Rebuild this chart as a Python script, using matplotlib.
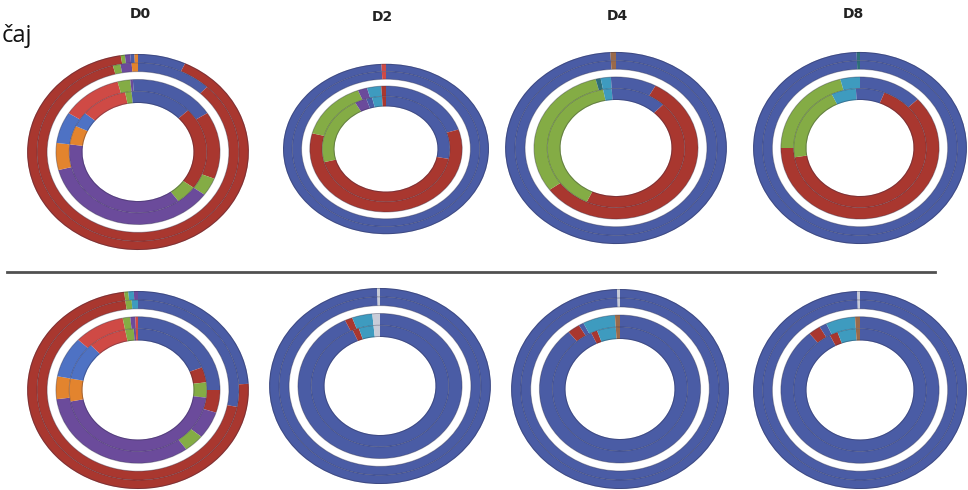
import numpy as np
import matplotlib.pyplot as plt
from matplotlib.lines import Line2D
from matplotlib.patches import Circle

# colour for each category
palette = {
    'blue': '#4A5CA5', 'blue2': '#4E72C4', 'red': '#A9372F', 'rose': '#CF4A45',
    'green': '#84AC45', 'purple': '#6B4B9B', 'orange': '#E3842E', 'cyan': '#3E9BBF',
    'brown': '#9A6A4A', 'grey': '#C8CCD8', 'teal': '#2E6E7A',
}

titles = ['D0', 'D2', 'D4', 'D8']

# each panel: 4 rings (outer -> inner), segments clockwise from 12 o'clock
top_d0 = [
    [('blue', 7), ('red', 90.5), ('green', 0.6), ('purple', 0.8), ('blue', 0.6), ('orange', 0.5)],
    [('blue', 12), ('red', 84), ('green', 1.2), ('purple', 1.8), ('orange', 1.0)],
    [('blue', 16), ('red', 15), ('green', 4), ('purple', 36), ('orange', 6), ('blue2', 7),
     ('rose', 12), ('green', 2.5), ('purple', 0.5), ('blue', 1)],
    [('blue', 13), ('red', 22), ('green', 5), ('purple', 37), ('orange', 5), ('blue2', 4),
     ('rose', 11), ('green', 1.5), ('blue', 1.5)],
]
top_d2 = [
    [('blue', 99.3), ('rose', 0.7)],
    [('blue', 99.3), ('rose', 0.7)],
    [('blue', 20), ('red', 59), ('green', 15), ('purple', 2), ('cyan', 3), ('red', 1)],
    [('blue', 28), ('red', 43), ('green', 21), ('purple', 3), ('blue', 1.5), ('cyan', 2.5), ('red', 1)],
]
top_d4 = [
    [('blue', 99.2), ('brown', 0.8)],
    [('blue', 99.2), ('brown', 0.8)],
    [('blue', 8), ('red', 57), ('green', 31), ('teal', 1), ('cyan', 2), ('blue', 1)],
    [('blue', 12), ('red', 45), ('green', 40), ('cyan', 2), ('blue', 1)],
]
top_d8 = [
    [('blue', 99.5), ('teal', 0.5)],
    [('blue', 99.5), ('teal', 0.5)],
    [('blue', 13), ('red', 62), ('green', 21), ('cyan', 4)],
    [('blue', 6), ('red', 66.5), ('green', 20.5), ('cyan', 6), ('blue', 1)],
]
bot_d0 = [
    [('blue', 24), ('red', 74), ('green', 0.6), ('cyan', 0.8), ('purple', 0.6)],
    [('blue', 28), ('red', 70), ('green', 1), ('cyan', 1)],
    [('blue', 25), ('red', 5), ('purple', 6), ('green', 4), ('purple', 33), ('orange', 5),
     ('blue2', 9), ('rose', 10), ('green', 1.5), ('purple', 1), ('rose', 0.5)],
    [('blue', 19), ('red', 4), ('green', 4), ('purple', 45), ('orange', 6), ('blue2', 10),
     ('rose', 9), ('green', 2), ('purple', 0.5), ('rose', 0.5)],
]
bot_d2 = [
    [('blue', 99.6), ('grey', 0.4)],
    [('blue', 99.6), ('grey', 0.4)],
    [('blue', 93), ('red', 1.5), ('cyan', 4), ('grey', 1.5)],
    [('blue', 93.5), ('red', 1.5), ('cyan', 3.5), ('grey', 1.5)],
]
bot_d4 = [
    [('blue', 99.6), ('grey', 0.4)],
    [('blue', 99.6), ('grey', 0.4)],
    [('blue', 89), ('red', 2.5), ('blue', 1), ('cyan', 6.5), ('brown', 1)],
    [('blue', 93), ('red', 1.5), ('cyan', 4.5), ('brown', 1)],
]
bot_d8 = [
    [('blue', 99.6), ('grey', 0.4)],
    [('blue', 99.6), ('grey', 0.4)],
    [('blue', 89), ('red', 2.5), ('blue', 1.5), ('cyan', 6), ('brown', 1)],
    [('blue', 92.5), ('red', 2), ('cyan', 4.5), ('brown', 1)],
]

panels = [top_d0, top_d2, top_d4, top_d8, bot_d0, bot_d2, bot_d4, bot_d8]

# pixel layout: centre x, centre y, half width, half height
W, H = 968, 490
boxes = [
    (138, 152, 112, 99), (386, 149, 104, 86), (616, 148, 112, 97), (860, 148, 108, 97),
    (138, 390, 112, 100), (380, 386, 112, 99), (620, 389, 110, 101), (860, 390, 108, 100),
]
ring_r = [1.0, 0.91, 0.74, 0.62]
ring_w = [0.09, 0.09, 0.12, 0.12]

fig = plt.figure(figsize=(W / 100, H / 100), dpi=100)

for data, (cx, cy, hw, hh) in zip(panels, boxes):
    ax = fig.add_axes([(cx - hw) / W, 1 - (cy + hh) / H, 2 * hw / W, 2 * hh / H])
    for ring, r, w in zip(data, ring_r, ring_w):
        vals = [v for c, v in ring]
        cols = [palette[c] for c, v in ring]
        ax.pie(vals, colors=cols, radius=r, startangle=90, counterclock=False,
               wedgeprops=dict(width=w, linewidth=0))
    # thin darker lines where the rings meet
    for r in [0.995, 0.91, 0.82, 0.74, 0.62, 0.505]:
        ax.add_patch(Circle((0, 0), r, fill=False, edgecolor=(0.15, 0.15, 0.25, 0.35),
                            linewidth=0.7))
    ax.set_aspect('auto')
    ax.set_xlim(-1.01, 1.01)
    ax.set_ylim(-1.01, 1.01)
    ax.axis('off')

title_pos = [(140, 14), (382, 17), (617, 16), (853, 14)]
for t, (x, y) in zip(titles, title_pos):
    fig.text(x / W, 1 - y / H, t, ha='center', va='center', fontsize=10,
             fontweight='bold', family='DejaVu Sans', color='#222222')

fig.text(2 / W, 1 - 36 / H, 'čaj', ha='left', va='center', fontsize=17,
         family='Open Sans', color='#111111')

fig.add_artist(Line2D([7 / W, 935 / W], [1 - 272 / H, 1 - 272 / H],
                      color='#505050', linewidth=2))

fig.savefig('out.png', dpi=100)
